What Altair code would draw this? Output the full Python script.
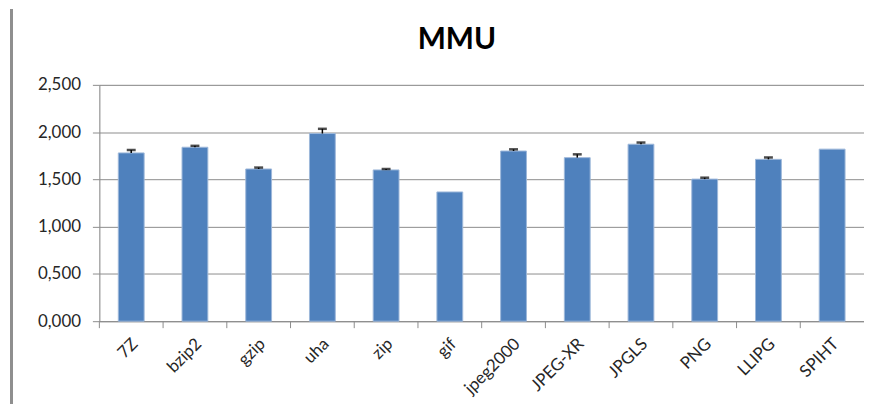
import altair as alt
import pandas as pd

categories = ["7Z", "bzip2", "gzip", "uha", "zip", "gif", "jpeg2000", "JPEG-XR", "JPGLS", "PNG", "LLIPG", "SPIHT"]
values = [1.78, 1.84, 1.61, 1.985, 1.60, 1.367, 1.80, 1.73, 1.872, 1.503, 1.712, 1.82]
errors = [0.03, 0.015, 0.015, 0.05, 0.01, 0.0, 0.018, 0.035, 0.018, 0.015, 0.02, 0.0]

df = pd.DataFrame({"cat": categories, "val": values, "err": errors})
df["top"] = df["val"] + df["err"]
df_err = df[df["err"] > 0]

FONT = "Lato"
W, H = 770, 238

xscale = alt.Scale(domain=categories, paddingInner=0, paddingOuter=0)
yscale = alt.Scale(domain=[0, 2.5], nice=False)

x_axis = alt.Axis(
    title=None, labelAngle=-45, labelAlign="right", labelBaseline="middle",
    labelFont=FONT, labelFontSize=17, labelColor="#262626", labelPadding=20,
    labelOffset=4, ticks=False, domain=True, domainColor="#8c8c8c", grid=False,
)
y_axis = alt.Axis(
    title=None, values=[0, 0.5, 1.0, 1.5, 2.0, 2.5],
    labelExpr="replace(format(datum.value, '.3f'), '.', ',')",
    labelFont=FONT, labelFontSize=17, labelColor="#262626", labelPadding=12,
    tickSize=7, tickColor="#8c8c8c", domainColor="#8c8c8c",
    grid=True, gridColor="#8c8c8c", gridWidth=1,
)

base = alt.Chart(df)

bars = base.mark_bar(size=26, color="#4F81BD", stroke="#9db7da", strokeWidth=1).encode(
    x=alt.X("cat:N", scale=xscale, axis=x_axis, sort=categories),
    y=alt.Y("val:Q", scale=yscale, axis=y_axis),
)

xticks = base.mark_rule(color="#8c8c8c").encode(
    x=alt.X("cat:N", scale=xscale, sort=categories, bandPosition=0),
    y=alt.value(H), y2=alt.value(H + 7),
)

err_rule = alt.Chart(df_err).mark_rule(color="black", strokeWidth=1.5).encode(
    x=alt.X("cat:N", scale=xscale, sort=categories),
    y=alt.Y("val:Q", scale=yscale),
    y2="top:Q",
)
err_cap = alt.Chart(df_err).mark_tick(color="black", thickness=2.5, size=9).encode(
    x=alt.X("cat:N", scale=xscale, sort=categories),
    y=alt.Y("top:Q", scale=yscale),
)

border = alt.Chart(df).mark_rule(color="#8f8f8f", strokeWidth=2.5).encode(
    x=alt.value(-88.5), y=alt.value(-76), y2=alt.value(H + 83),
)

chart = alt.layer(bars, xticks, err_rule, err_cap, border).properties(
    width=W, height=H,
    autosize=alt.AutoSizeParams(type="none"),
    padding={"left": 92, "top": 76, "right": 0, "bottom": 83},
    title=alt.TitleParams(
        "MMU", font=FONT, fontSize=30, fontWeight="bold", color="black",
        anchor="middle", frame="group", baseline="alphabetic",
        dx=-25, offset=0, dy=71,
    ),
).configure_view(stroke=None).configure(background="white")

chart.save("out.html", embed_options={"renderer": "svg", "actions": False})
